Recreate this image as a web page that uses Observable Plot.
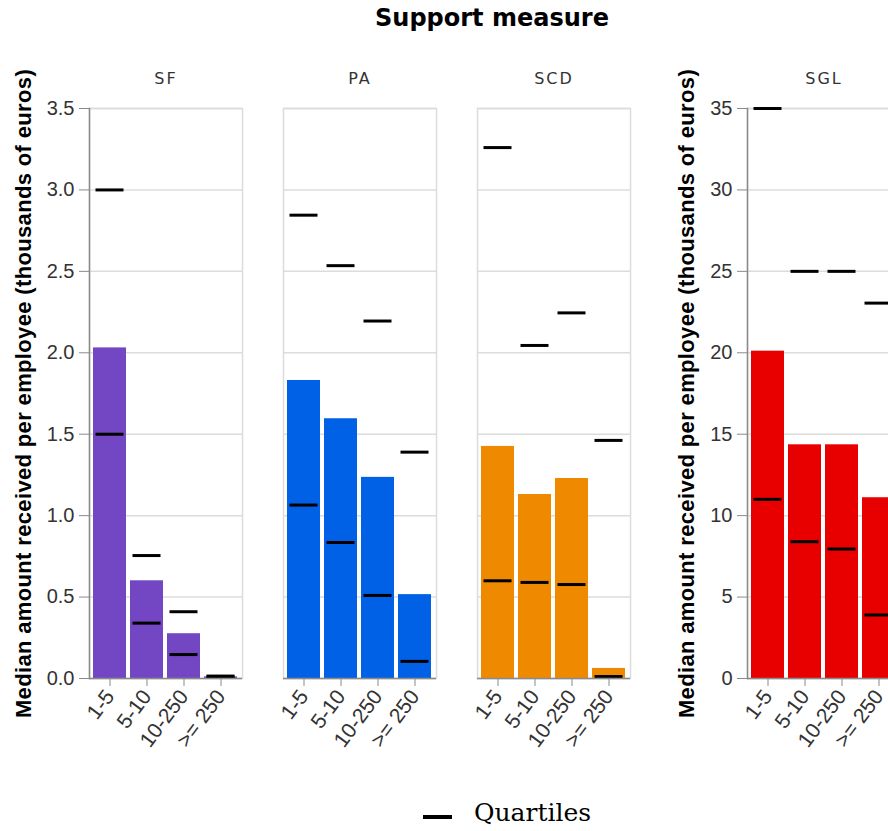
<!DOCTYPE html>
<html>
<head>
<meta charset="utf-8">
<script src="https://cdn.jsdelivr.net/npm/d3@7"></script>
<script src="https://cdn.jsdelivr.net/npm/@observablehq/plot@0.6"></script>
<style>
html, body { margin: 0; padding: 0; background: #fff; width: 888px; height: 831px; overflow: hidden; }
#root { position: relative; width: 888px; height: 831px; overflow: hidden; font-family: "Liberation Sans", Arial, sans-serif; }
#title { position: absolute; top: 4px; left: 0; width: 984px; text-align: center; font-family: "DejaVu Sans", sans-serif; font-weight: bold; font-size: 24px; color: #000; }
#p1 { position: absolute; top: 60px; left: 0; width: 642px; }
#p2 { position: absolute; top: 60px; left: 659px; width: 253px; }
#p1 svg, #p2 svg { max-width: none !important; }
#legend { position: absolute; top: 798px; left: 423px; height: 32px; white-space: nowrap; }
#legend .sw { position: absolute; left: 0; top: 17px; width: 29px; height: 4px; background: #000; }
#legend .lt { position: absolute; left: 51px; top: 0; font-family: "DejaVu Serif", "Liberation Serif", serif; font-size: 25px; color: #000; }
svg g[aria-label^="fx-axis"] text { letter-spacing: 2px; }
svg g[aria-label="text"] text { letter-spacing: 0.35px; }
</style>
</head>
<body>
<div id="root">
  <div id="title"></div>
  <div id="p1"></div>
  <div id="p2"></div>
  <div id="legend"><span class="sw"></span><span class="lt"></span></div>
</div>
<script>
const titleText = "Support measure";
const yTitle = "Median amount received per employee (thousands of euros)";
const legendText = "Quartiles";
const sizes = ["1-5", "5-10", "10-250", ">= 250"];
const measures = ["SF", "PA", "SCD", "SGL"];
const barColors = ["#7347c4", "#0060e6", "#ef8a00", "#e80000"];

const sfMedian = [2.03, 0.60, 0.275, 0.01];
const sfQ1 = [1.50, 0.34, 0.147, 0.01];
const sfQ3 = [3.00, 0.755, 0.41, 0.015];
const paMedian = [1.83, 1.595, 1.235, 0.515];
const paQ1 = [1.065, 0.835, 0.51, 0.105];
const paQ3 = [2.845, 2.535, 2.195, 1.39];
const scdMedian = [1.425, 1.13, 1.228, 0.062];
const scdQ1 = [0.60, 0.59, 0.577, 0.012];
const scdQ3 = [3.26, 2.045, 2.245, 1.462];
const sglMedian = [20.1, 14.35, 14.35, 11.1];
const sglQ1 = [11.0, 8.4, 7.95, 3.9];
const sglQ3 = [35.0, 25.0, 25.0, 23.05];

const smallTicks = [0, 0.5, 1, 1.5, 2, 2.5, 3, 3.5];
const sglTicks = [0, 5, 10, 15, 20, 25, 30, 35];

const series = {
  SF: [sfMedian, sfQ1, sfQ3],
  PA: [paMedian, paQ1, paQ3],
  SCD: [scdMedian, scdQ1, scdQ3],
  SGL: [sglMedian, sglQ1, sglQ3]
};
const rows = measures.flatMap(m => sizes.map((s, i) => ({
  measure: m, size: s, median: series[m][0][i], q1: series[m][1][i], q3: series[m][2][i]
})));

function panel(ms, ticks, fmt, titleDx, width) {
  const data = rows.filter(d => ms.includes(d.measure));
  const quart = data.flatMap(d => [{measure: d.measure, size: d.size, q: d.q1}, {measure: d.measure, size: d.size, q: d.q3}]);
  return Plot.plot({
    width: width,
    height: 718,
    marginTop: 48,
    marginBottom: 100,
    marginLeft: 88,
    marginRight: width - 88 - (ms.length * 153 + (ms.length - 1) * 41.5),
    style: {fontFamily: "'Liberation Sans', Arial, sans-serif", color: "#333", background: "transparent", overflow: "visible", maxWidth: "none"},
    fx: {domain: ms, paddingInner: ms.length > 1 ? 41.5 / 194.5 : 0, paddingOuter: 0, label: null},
    x: {domain: sizes, padding: 0.1, label: null},
    y: {domain: [ticks[0], ticks[ticks.length - 1]], label: null},
    color: {domain: measures, range: barColors},
    marks: [
      Plot.gridY(ticks, {stroke: "#dcdcdc", strokeOpacity: 1, strokeWidth: 1.5}),
      Plot.frame({stroke: "#dcdcdc", strokeWidth: 1.5}),
      Plot.barY(data, {fx: "measure", x: "size", y: "median", fill: "measure"}),
      Plot.tickY(quart, {fx: "measure", x: "size", y: "q", stroke: "#000", strokeWidth: 3, inset: 2.5}),
      Plot.ruleY([0], {stroke: "#8a8a8a", strokeWidth: 1.5}),
      Plot.frame({anchor: "left", stroke: "#8a8a8a", strokeWidth: 1.5, fx: [ms[0]]}),
      Plot.axisY(ticks, {tickSize: 10, tickPadding: 5, stroke: "#8a8a8a", fill: "#333", fontSize: 20, tickFormat: fmt, label: null}),
      Plot.text([yTitle], {fx: [ms[0]], text: d => d, frameAnchor: "left", rotate: -90, dx: titleDx,
        textAnchor: "middle", lineAnchor: "middle", fontWeight: "bold", fontSize: 22, fill: "#000"}),
      Plot.axisX({tickRotate: -53, tickSize: 8, tickPadding: 6, stroke: "#8a8a8a", fill: "#333", fontSize: 21, label: null}),
      Plot.axisFx({anchor: "top", tickSize: 0, tickPadding: 25, label: null, fontSize: 16, fontFamily: "'DejaVu Sans', sans-serif", fill: "#333"})
    ]
  });
}

document.getElementById("title").textContent = titleText;
document.querySelector("#legend .lt").textContent = legendText;
document.getElementById("p1").appendChild(panel(["SF", "PA", "SCD"], smallTicks, d3.format(".1f"), -66, 642));
document.getElementById("p2").appendChild(panel(["SGL"], sglTicks, d => String(d), -61, 253));
</script>
</body>
</html>
